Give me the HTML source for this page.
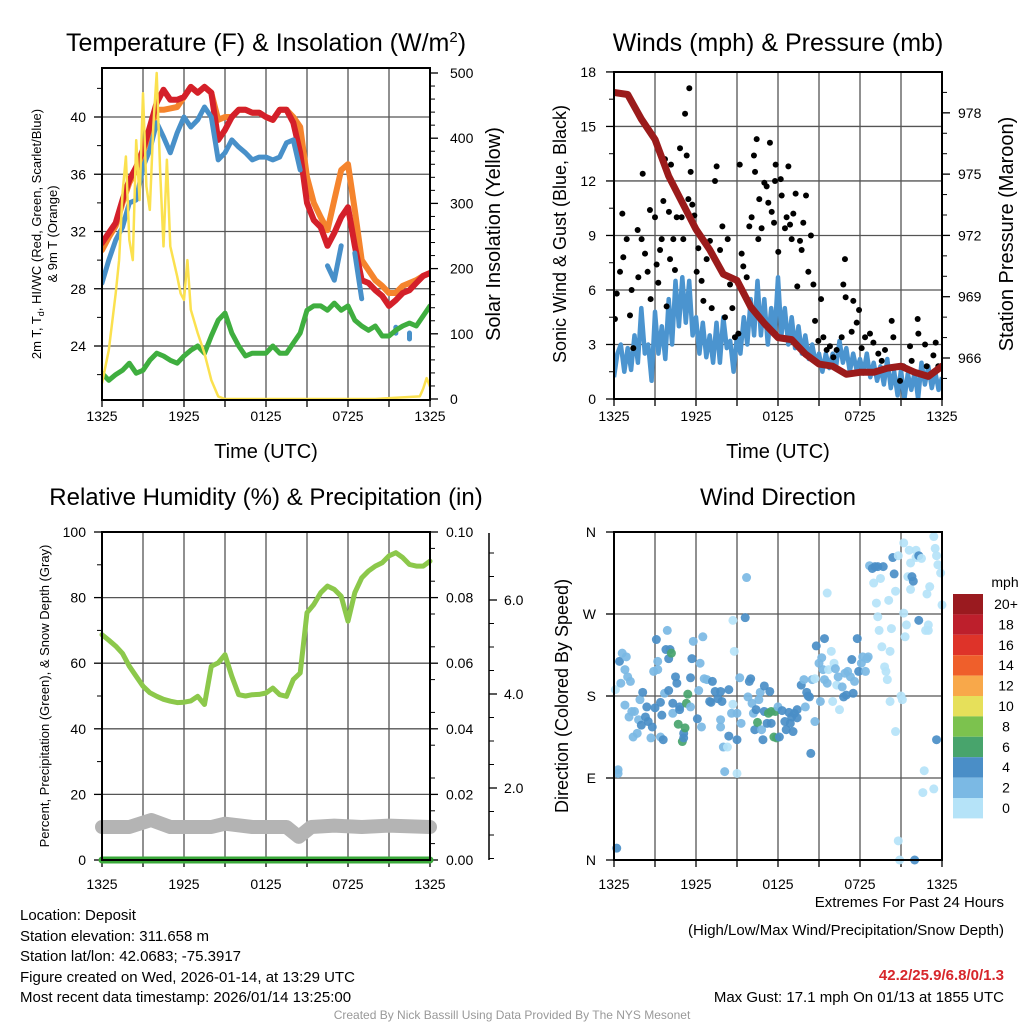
<!DOCTYPE html>
<html><head><meta charset="utf-8"><title>Mesonet Station Chart</title>
<style>
html,body{margin:0;padding:0;background:#fff;}
svg{display:block;font-family:"Liberation Sans",Arial,sans-serif;}
</style></head>
<body>
<svg id="chart" width="1024" height="1024" viewBox="0 0 1024 1024" xmlns="http://www.w3.org/2000/svg">
<rect x="0" y="0" width="1024" height="1024" fill="#fff"/>
<text x="266" y="51" font-size="25" text-anchor="middle">Temperature (F) &amp; Insolation (W/m<tspan dy="-9" font-size="15">2</tspan><tspan dy="9">)</tspan></text>
<text x="778" y="51" font-size="25" text-anchor="middle">Winds (mph) &amp; Pressure (mb)</text>
<text x="266" y="505" font-size="24" text-anchor="middle">Relative Humidity (%) &amp; Precipitation (in)</text>
<text x="778" y="505" font-size="24" text-anchor="middle">Wind Direction</text>

<text transform="translate(41,234) rotate(-90)" font-size="13" text-anchor="middle">2m T, T<tspan font-size="9" dy="3">d</tspan><tspan dy="-3">, HI/WC (Red, Green, Scarlet/Blue)</tspan></text>
<text transform="translate(57,234) rotate(-90)" font-size="13" text-anchor="middle">&amp; 9m T (Orange)</text>
<text transform="translate(500,234) rotate(-90)" font-size="20" text-anchor="middle">Solar Insolation (Yellow)</text>
<text x="266" y="458" font-size="20" text-anchor="middle">Time (UTC)</text>
<text transform="translate(566,234) rotate(-90)" font-size="18" text-anchor="middle">Sonic Wind &amp; Gust (Blue, Black)</text>
<text transform="translate(1013,234) rotate(-90)" font-size="20" text-anchor="middle">Station Pressure (Maroon)</text>
<text x="778" y="458" font-size="20" text-anchor="middle">Time (UTC)</text>
<text transform="translate(49,696) rotate(-90)" font-size="13" text-anchor="middle">Percent, Precipitation (Green), &amp; Snow Depth (Gray)</text>
<text transform="translate(568,696) rotate(-90)" font-size="18" text-anchor="middle">Direction (Colored By Speed)</text>

<g font-size="15">
<text x="20" y="920">Location: Deposit</text>
<text x="20" y="941">Station elevation: 311.658 m</text>
<text x="20" y="961">Station lat/lon: 42.0683; -75.3917</text>
<text x="20" y="982">Figure created on Wed, 2026-01-14, at 13:29 UTC</text>
<text x="20" y="1002">Most recent data timestamp: 2026/01/14 13:25:00</text>
</g>
<g font-size="15" text-anchor="end">
<text x="1004" y="907">Extremes For Past 24 Hours</text>
<text x="1004" y="935">(High/Low/Max Wind/Precipitation/Snow Depth)</text>
<text x="1004" y="980" fill="#d7262b" font-weight="bold">42.2/25.9/6.8/0/1.3</text>
<text x="1004" y="1002">Max Gust: 17.1 mph On 01/13 at 1855 UTC</text>
</g>
<text x="512" y="1019" font-size="12" fill="#999" text-anchor="middle">Created By Nick Bassill Using Data Provided By The NYS Mesonet</text>
</svg>
<script>
// ---------- data ----------
const halfHours = [0,0.5,1,1.5,2,2.5,3,3.5,4,4.5,5,5.5,6,6.5,7,7.5,8,8.5,9,9.5,10,10.5,11,11.5,12,12.5,13,13.5,14,14.5,15,15.5,16,16.5,17,17.5,18,18.5,19,19.5,20,20.5,21,21.5,22,22.5,23,23.5,24];
const timeTickLabels = ["1325","1925","0125","0725","1325"];
const tempTicks = [24,28,32,36,40];
const solarTicks = [0,100,200,300,400,500];
const temp2m = [31.2,31.9,32.6,34.2,35.6,36.5,37.7,39.3,41.0,41.9,41.2,41.2,41.4,42.1,41.7,42.1,41.7,38.4,39.1,40.0,40.5,40.5,40.3,40.3,40.0,39.8,40.5,40.5,39.6,37.5,34.0,32.8,32.3,31.0,31.9,33.0,33.7,31.0,28.6,28.4,27.9,27.5,26.8,27.2,27.7,27.9,28.4,28.9,29.1];
const temp9m = [30.7,31.6,32.4,34.0,35.4,36.3,37.5,39.0,40.5,40.5,40.6,40.7,41.4,42.1,41.7,42.1,41.7,39.8,40.0,40.0,40.5,40.5,40.3,40.3,40.0,39.8,40.5,40.5,40.0,39.3,35.8,34.0,33.0,32.1,34.2,36.3,36.7,33.5,30.0,29.3,28.6,28.2,27.7,27.7,28.2,28.4,28.6,28.9,29.1];
const heatWindChill = [28.4,30.0,31.4,32.3,34.0,34.2,36.5,37.7,39.6,38.6,37.5,38.9,40.0,39.3,39.8,40.7,40.0,37.0,37.5,38.4,37.9,37.5,37.0,37.2,37.2,37.0,37.2,38.2,38.4,36.3,null,null,null,29.6,28.6,31.0,null,30.5,27.3,null,null,null,null,25.1,null,24.7,null,null,null];
const dewPoint = [22.1,21.6,22.0,22.3,22.8,22.1,22.3,23.0,23.5,23.3,23.0,22.8,23.3,23.7,24.0,23.5,24.7,25.8,26.3,24.9,24.0,23.3,23.5,23.5,23.5,24.0,23.5,23.5,24.2,24.9,26.5,26.8,26.8,26.5,27.0,26.5,26.8,25.8,25.4,25.1,25.4,24.7,24.7,25.1,25.4,25.6,25.4,26.1,26.8];
const solarHours = [0,0.5,1,1.25,1.5,1.75,2,2.25,2.5,2.75,3,3.25,3.5,3.75,4,4.25,4.5,4.75,5,5.5,5.75,6,6.25,6.5,7,7.5,8,8.5,9,12,16,20,23.25,23.5,23.75,24];
const solarValues = [24,75,162,213,315,372,244,213,397,305,469,326,290,418,500,351,234,367,234,188,162,152,213,137,101,70,29,4,0,0,0,0,4,16,32,19];

const windTicks = [0,3,6,9,12,15,18];
const pressureTicks = [966,969,972,975,978];
const windHours = [0,0.25,0.5,0.75,1,1.25,1.5,1.75,2,2.25,2.5,2.75,3,3.25,3.5,3.75,4,4.25,4.5,4.75,5,5.25,5.5,5.75,6,6.25,6.5,6.75,7,7.25,7.5,7.75,8,8.25,8.5,8.75,9,9.25,9.5,9.75,10,10.25,10.5,10.75,11,11.25,11.5,11.75,12,12.25,12.5,12.75,13,13.25,13.5,13.75,14,14.25,14.5,14.75,15,15.25,15.5,15.75,16,16.25,16.5,16.75,17,17.25,17.5,17.75,18,18.25,18.5,18.75,19,19.25,19.5,19.75,20,20.25,20.5,20.75,21,21.25,21.5,21.75,22,22.25,22.5,22.75,23,23.25,23.5,23.75,24];
const windSpeed = [1.2,2.5,3.0,1.5,2.8,1.6,3.5,2.0,5.0,2.5,3.0,1.0,4.8,2.5,4.0,2.2,5.5,3.0,6.5,4.0,6.7,4.2,6.5,3.5,4.5,2.5,4.2,2.3,3.5,2.0,4.2,2.0,4.5,2.8,3.2,1.5,3.5,2.5,4.5,3.0,5.5,3.5,6.5,3.5,5.5,3.0,5.0,3.5,6.7,3.5,5.0,3.0,4.5,2.8,4.0,2.5,3.5,2.2,3.0,2.0,2.5,1.5,2.5,1.7,2.5,1.8,3.2,2.0,2.8,1.5,2.5,1.6,2.2,1.4,2.5,1.2,2.0,1.0,1.8,0.8,2.2,0.6,1.5,0.2,1.6,0.0,1.4,0.5,1.5,0.0,2.0,0.8,1.8,0.6,1.5,0.5,1.2];
const gustHours = [0.07,0.2,0.44,0.61,0.68,0.93,1.17,1.29,1.41,1.73,1.78,2.02,2.1,2.27,2.46,2.63,2.68,3.0,3.12,3.24,3.37,3.49,3.61,3.73,3.85,4.02,4.1,4.17,4.34,4.46,4.59,4.83,4.95,5.07,5.2,5.32,5.44,5.51,5.61,5.73,5.88,6.05,6.17,6.41,6.54,6.78,7.02,7.15,7.39,7.51,7.76,7.93,8.12,8.32,8.49,8.66,8.85,9.1,9.2,9.34,9.46,9.71,9.9,10.07,10.24,10.32,10.44,10.56,10.63,10.8,11.0,11.17,11.29,11.41,11.54,11.71,11.78,11.83,12.02,12.2,12.27,12.51,12.63,12.76,12.88,13.0,13.12,13.29,13.41,13.61,13.73,13.85,14.05,14.22,14.41,14.59,14.71,14.95,15.15,15.32,15.56,15.8,16.05,16.29,16.66,16.78,16.9,16.95,17.39,17.51,17.76,17.93,18.12,18.37,18.73,18.98,19.34,19.59,19.83,20.32,20.44,20.93,21.17,21.66,21.78,22.22,22.27,22.76,22.88,23.37,23.54,23.73];
const gustSpeed = [4.4,5.8,7.0,10.2,7.8,8.8,4.6,6.0,2.8,9.3,6.7,8.8,12.4,8.0,7.0,10.4,5.5,10.0,7.4,6.4,8.2,8.8,10.9,13.2,5.1,10.3,7.7,12.9,8.8,7.1,10.0,13.8,10.0,8.8,15.7,13.4,11.0,17.1,12.5,10.7,10.1,7.0,8.3,6.5,5.4,7.7,8.7,5.0,12.0,12.8,8.2,9.5,4.5,8.8,6.3,5.0,3.4,3.6,12.9,8.0,7.3,6.7,9.5,10.0,13.4,12.5,14.3,8.8,11.0,9.4,11.9,11.7,10.8,14.1,10.3,9.7,12.0,12.9,8.1,12.1,11.2,9.4,10.0,12.8,9.6,8.8,10.2,11.3,6.2,8.7,8.2,9.7,11.2,7.0,9.0,6.3,4.3,3.2,5.5,3.4,2.7,2.9,2.3,2.7,3.4,6.3,7.7,5.6,3.7,5.4,4.2,4.9,2.8,3.4,3.6,3.1,2.5,2.1,2.7,4.3,3.4,1.0,1.8,2.9,2.1,4.4,3.6,3.0,1.8,2.4,3.1,1.8];
const pressureHours = [0,1,2,3,4,5,6,7,8,9,10,11,12,13,14,15,16,17,18,19,20,21,22,23,24];
const pressureValues = [979.0,978.9,977.7,976.7,974.9,973.6,972.3,971.3,970.1,969.8,968.5,967.7,967.0,966.9,966.2,965.7,965.6,965.2,965.3,965.3,965.5,965.6,965.3,965.1,965.6];

const percentTicks = [0,20,40,60,80,100];
const precipTicks = ["0.00","0.02","0.04","0.06","0.08","0.10"];
const snowTicks = [2,4,6];
const relHumidity = [68.7,67,65.2,63,59.1,56,53,51,49.9,49,48.4,48,48.1,48.5,49.9,47.4,59.1,60.1,62.6,56,50.4,50,50.4,50.5,50.9,52.4,50.4,49.9,55,57,75.4,77.9,81.5,83.5,82.5,80.4,72.8,81.5,86,88.1,89.6,90.6,92.7,93.7,92.2,90.1,89.6,89.6,91.1];
const snowHours = [0,2,3.6,5,8,9,11,12.5,13.5,14.4,15.3,17,19,21,24];
const snowDepth = [1.17,1.17,1.32,1.17,1.17,1.24,1.17,1.17,1.17,0.96,1.17,1.2,1.17,1.2,1.17];
const precipHours = [0,24];
const precipValues = [0,0];

const dirTickLabels = ["N","E","S","W","N"];
const dirHours = [0.2,0.3,0.3,0.1,0.4,0.6,0.9,0.5,0.8,1.0,1.2,0.8,1.1,1.3,1.5,1.8,2.0,1.4,1.7,1.9,2.1,2.4,2.3,2.5,2.8,2.7,3.0,3.1,3.2,3.2,2.9,3.4,3.5,3.4,3.6,3.7,3.9,3.8,4.0,4.1,4.2,4.0,4.3,4.5,4.6,4.3,4.7,4.8,4.8,5.0,5.1,5.2,5.1,5.3,5.4,5.6,5.7,5.8,5.6,6.1,6.3,6.2,6.5,6.4,6.6,6.8,7.0,7.1,7.2,7.4,7.6,7.8,7.9,7.8,7.8,8.0,8.1,8.3,8.4,8.4,8.7,8.7,8.8,8.6,9.0,9.0,9.0,9.2,9.3,9.6,9.7,9.8,10.0,9.9,10.1,10.2,10.3,10.4,10.5,10.6,10.7,10.8,10.9,11.0,11.0,11.2,11.3,11.4,11.5,11.5,11.7,11.8,11.9,12.0,12.1,12.3,12.5,12.6,12.8,12.9,13.0,13.1,13.2,13.4,13.4,13.7,13.9,14.0,14.1,14.2,14.3,14.4,14.5,14.7,14.7,14.8,15.0,15.1,15.2,15.3,15.4,15.4,15.6,15.6,15.7,15.9,16.0,16.1,16.2,16.3,16.4,16.5,16.7,16.8,16.9,17.0,17.1,17.3,17.4,17.5,17.6,17.8,17.9,18.1,18.2,18.4,18.5,18.6,18.7,18.9,19.0,19.1,19.3,19.2,19.3,19.4,19.5,19.6,19.7,19.8,19.9,20.0,20.1,20.2,20.2,20.3,20.4,20.5,20.6,20.6,20.8,20.8,20.9,21.0,21.1,21.2,21.2,21.3,21.4,21.5,21.6,21.7,21.7,21.8,21.9,22.0,22.1,22.1,22.3,22.3,22.5,22.6,22.7,22.8,22.9,23.0,23.0,23.1,23.4,23.4,23.5,23.6,23.6,23.7,23.9,24.0];
const dirDegrees = [13,95,99,187,218,227,223,194,209,201,196,170,157,163,163,154,148,135,139,176,184,168,157,152,146,134,167,242,218,209,207,173,159,135,132,183,252,231,221,231,227,186,172,201,194,161,149,168,165,130,139,145,134,172,182,200,221,240,168,155,216,186,245,146,199,198,174,173,196,185,177,185,174,154,146,124,97,124,136,187,171,263,229,161,161,132,95,200,150,266,310,179,199,196,172,161,143,165,151,176,184,143,132,191,163,150,161,185,163,150,135,163,134,168,135,164,152,143,162,150,157,141,161,165,156,192,198,168,184,180,179,117,198,152,199,235,216,174,222,209,198,243,293,194,209,229,174,216,210,192,201,165,190,179,205,181,207,201,220,183,196,243,207,216,223,207,221,223,323,320,304,322,322,282,267,252,309,234,322,212,207,198,285,229,174,254,332,314,295,141,334,21,0,180,176,348,271,245,258,311,340,326,297,311,306,0,340,332,334,263,331,74,98,252,292,252,258,300,78,355,342,334,132,324,315,280];
const dirSpeed = [5,3,3,1,5,3,3,3,3,3,3,3,3,3,3,3,5,3,3,3,5,5,5,5,5,3,5,5,3,3,3,5,5,3,5,3,3,5,5,5,7,5,5,5,5,3,7,5,5,7,5,7,5,7,7,5,5,3,3,5,3,3,3,3,3,3,5,5,5,5,5,5,5,3,3,3,3,1,5,5,1,1,1,3,3,5,1,3,3,5,3,3,5,5,3,3,5,5,7,3,3,3,5,5,5,5,7,5,7,5,7,7,7,3,5,5,5,5,5,5,5,5,5,5,5,5,3,3,5,5,5,5,3,3,1,5,3,3,3,3,3,5,1,3,1,1,1,1,3,1,3,1,3,5,3,5,3,3,5,5,3,5,5,3,3,3,3,3,3,5,1,5,5,1,1,1,1,1,5,1,1,1,1,1,1,1,5,5,1,1,1,1,1,1,1,1,1,1,1,1,1,1,1,5,5,5,1,1,5,5,1,1,1,1,1,1,1,1,1,1,1,1,5,1,1,1,1,1,1];
const colorbarLabels = ["20+","18","16","14","12","10","8","6","4","2","0"];
const colorbarColors = ["#9a1a1f","#bd1f2c","#de3329","#ef5f2b","#f8a84a","#e6e05a","#7cc24e","#48a46c","#4a8ec7","#7bb9e4","#b5e3f8"];

// ---------- helpers ----------
const NS = "http://www.w3.org/2000/svg";
const svg = document.getElementById("chart");
function mk(tag, attrs, name, parent) {
  const el = document.createElementNS(NS, tag);
  for (const k in attrs) el.setAttribute(k, attrs[k]);
  
  
  (parent || svg).appendChild(el);
  return el;
}
function txt(x, y, s, size, anchor, name, parent) {
  const el = mk("text", {x: x, y: y, "font-size": size, "text-anchor": anchor}, name, parent);
  el.textContent = s;
  return el;
}
function pathOf(xs, ys, fx, fy) {
  const segs = []; let cur = [];
  for (let i = 0; i < xs.length; i++) {
    if (ys[i] === null || ys[i] === undefined) { if (cur.length) segs.push(cur); cur = []; continue; }
    cur.push([fx(xs[i]), fy(ys[i])]);
  }
  if (cur.length) segs.push(cur);
  return segs.map(s => s.length === 1 ? "M" + s[0][0] + "," + (s[0][1] - 3) + "L" + s[0][0] + "," + (s[0][1] + 3)
    : "M" + s.map(p => p[0].toFixed(1) + "," + p[1].toFixed(1)).join("L")).join("");
}
function panelFrame(x0, y0, w, h, name, hGrid, g) {
  const fg = mk("g", {}, name + "-grid", g);
  for (let i = 0; i <= 8; i++) {
    const x = x0 + i * w / 8;
    mk("line", {x1: x, y1: y0, x2: x, y2: y0 + h, stroke: "#555", "stroke-width": 1.3}, name + "-vgrid", fg);
    mk("line", {x1: x, y1: y0 + h, x2: x, y2: y0 + h + 7, stroke: "#000", "stroke-width": 1.3}, name + "-x-tick", fg);
  }
  hGrid.forEach(y => {
    mk("line", {x1: x0, y1: y, x2: x0 + w, y2: y, stroke: "#555", "stroke-width": 1.3}, name + "-hgrid", fg);
  });
}
function border(x0, y0, w, h, name, g) {
  mk("rect", {x: x0, y: y0, width: w, height: h, fill: "none", stroke: "#000", "stroke-width": 2}, name + "-border", g);
}
function timeLabels(x0, w, y, name, g) {
  timeTickLabels.forEach((s, i) => txt(x0 + i * w / 4, y, s, 14, "middle", name + "-x-tick-label", g));
}

// ---------- panel 1: temperature ----------
{
  const g = mk("g", {}, "temperature-panel");
  const X0 = 102, W = 328, Y0 = 68, H = 332;
  const x = h => X0 + h * W / 24;
  const yT = t => 117 - (t - 40) * 57.25 / 4;
  const yS = v => 399 - v * 0.652;
  panelFrame(X0, Y0, W, H, "temperature", tempTicks.map(yT), g);
  tempTicks.forEach(t => {
    mk("line", {x1: X0 - 8, y1: yT(t), x2: X0, y2: yT(t), stroke: "#000", "stroke-width": 1.3}, "temperature-y-tick", g);
    txt(X0 - 16, yT(t) + 5, String(t), 14, "end", "temperature-y-tick-label", g);
  });
  for (let t = 22; t <= 42; t += 2) if (tempTicks.indexOf(t) < 0)
    mk("line", {x1: X0 - 5, y1: yT(t), x2: X0, y2: yT(t), stroke: "#000", "stroke-width": 1}, "temperature-minor-tick", g);
  solarTicks.forEach(v => {
    mk("line", {x1: X0 + W, y1: yS(v), x2: X0 + W + 8, y2: yS(v), stroke: "#000", "stroke-width": 1.3}, "solar-y-tick", g);
    txt(X0 + W + 20, yS(v) + 5, String(v), 14, "start", "solar-y-tick-label", g);
  });
  for (let v = 20; v < 510; v += 20) if (v % 100)
    mk("line", {x1: X0 + W, y1: yS(v), x2: X0 + W + 5, y2: yS(v), stroke: "#000", "stroke-width": 1}, "solar-minor-tick", g);
  timeLabels(X0, W, 421, "temperature", g);
  const clip = mk("clipPath", {id: "clip1"}, "temperature-clip", g);
  mk("rect", {x: X0, y: Y0, width: W, height: H}, "temperature-clip-rect", clip);
  const lg = mk("g", {"clip-path": "url(#clip1)"}, "temperature-series", g);
  mk("path", {d: pathOf(halfHours, temp9m, x, yT), fill: "none", stroke: "#f5842d", "stroke-width": 6, "stroke-linejoin": "round", "stroke-linecap": "round"}, "temp-9m-line", lg);
  mk("path", {d: pathOf(halfHours, temp2m, x, yT), fill: "none", stroke: "#d4202a", "stroke-width": 6, "stroke-linejoin": "round", "stroke-linecap": "round"}, "temp-2m-line", lg);
  mk("path", {d: pathOf(halfHours, heatWindChill, x, yT), fill: "none", stroke: "#4890c9", "stroke-width": 5, "stroke-linejoin": "round", "stroke-linecap": "round"}, "heat-index-wind-chill-line", lg);
  mk("path", {d: pathOf(halfHours, dewPoint, x, yT), fill: "none", stroke: "#3fae3f", "stroke-width": 5, "stroke-linejoin": "round", "stroke-linecap": "round"}, "dew-point-line", lg);
  mk("path", {d: pathOf(solarHours, solarValues, x, yS), fill: "none", stroke: "#fbe14f", "stroke-width": 2.5, "stroke-linejoin": "round"}, "solar-insolation-line", lg);
  border(X0, Y0, W, H, "temperature", g);
}

// ---------- panel 2: winds ----------
{
  const g = mk("g", {}, "winds-panel");
  const X0 = 614, W = 328, Y0 = 72, H = 327;
  const x = h => X0 + h * W / 24;
  const yW = v => 399 - v * 18.17;
  const yP = p => 358 - (p - 966) * 20.43;
  panelFrame(X0, Y0, W, H, "winds", windTicks.map(yW), g);
  windTicks.forEach(v => {
    mk("line", {x1: X0 - 8, y1: yW(v), x2: X0, y2: yW(v), stroke: "#000", "stroke-width": 1.3}, "wind-y-tick", g);
    txt(X0 - 18, yW(v) + 5, String(v), 14, "end", "wind-y-tick-label", g);
  });
  for (let v = 1.5; v < 18; v += 3)
    mk("line", {x1: X0 - 5, y1: yW(v), x2: X0, y2: yW(v), stroke: "#000", "stroke-width": 1}, "wind-minor-tick", g);
  pressureTicks.forEach(p => {
    mk("line", {x1: X0 + W, y1: yP(p), x2: X0 + W + 8, y2: yP(p), stroke: "#000", "stroke-width": 1.3}, "pressure-y-tick", g);
    txt(X0 + W + 16, yP(p) + 5, String(p), 14, "start", "pressure-y-tick-label", g);
  });
  for (let p = 965; p <= 979; p++) if (pressureTicks.indexOf(p) < 0)
    mk("line", {x1: X0 + W, y1: yP(p), x2: X0 + W + 5, y2: yP(p), stroke: "#000", "stroke-width": 1}, "pressure-minor-tick", g);
  timeLabels(X0, W, 421, "winds", g);
  const clip = mk("clipPath", {id: "clip2"}, "winds-clip", g);
  mk("rect", {x: X0, y: Y0, width: W, height: H}, "winds-clip-rect", clip);
  const lg = mk("g", {"clip-path": "url(#clip2)"}, "winds-series", g);
  mk("path", {d: pathOf(windHours, windSpeed, x, yW), fill: "none", stroke: "#4b94cf", "stroke-width": 4.5, "stroke-linejoin": "round"}, "sonic-wind-line", lg);
  gustHours.forEach((h, i) => {
    const c = mk("circle", {cx: x(h), cy: yW(gustSpeed[i]), r: 3, fill: "#000"}, "gust-point", lg);
  });
  mk("path", {d: pathOf(pressureHours, pressureValues, x, yP), fill: "none", stroke: "#9b1b1b", "stroke-width": 7, "stroke-linejoin": "round", "stroke-linecap": "round"}, "pressure-line", lg);
  border(X0, Y0, W, H, "winds", g);
}

// ---------- panel 3: humidity ----------
{
  const g = mk("g", {}, "humidity-panel");
  const X0 = 102, W = 328, Y0 = 532, H = 328;
  const x = h => X0 + h * W / 24;
  const yR = p => 860 - p * 3.28;
  const yPr = v => 860 - v * 3280;
  const ySn = s => 882 - s * 47;
  panelFrame(X0, Y0, W, H, "humidity", percentTicks.map(yR), g);
  percentTicks.forEach(p => {
    mk("line", {x1: X0 - 8, y1: yR(p), x2: X0, y2: yR(p), stroke: "#000", "stroke-width": 1.3}, "humidity-y-tick", g);
    txt(X0 - 16, yR(p) + 5, String(p), 14, "end", "humidity-y-tick-label", g);
  });
  for (let p = 10; p < 100; p += 20)
    mk("line", {x1: X0 - 5, y1: yR(p), x2: X0, y2: yR(p), stroke: "#000", "stroke-width": 1}, "humidity-minor-tick", g);
  precipTicks.forEach(s => {
    const v = parseFloat(s);
    mk("line", {x1: X0 + W, y1: yPr(v), x2: X0 + W + 8, y2: yPr(v), stroke: "#000", "stroke-width": 1.3}, "precip-y-tick", g);
    txt(X0 + W + 16, yPr(v) + 5, s, 14, "start", "precip-y-tick-label", g);
  });
  for (let v = 0.005; v < 0.1; v += 0.01)
    mk("line", {x1: X0 + W, y1: yPr(v), x2: X0 + W + 5, y2: yPr(v), stroke: "#000", "stroke-width": 1}, "precip-minor-tick", g);
  mk("line", {x1: 489, y1: 533, x2: 489, y2: 860, stroke: "#000", "stroke-width": 1.5}, "snow-axis-line", g);
  snowTicks.forEach(s => {
    mk("line", {x1: 489, y1: ySn(s), x2: 497, y2: ySn(s), stroke: "#000", "stroke-width": 1.3}, "snow-y-tick", g);
    txt(504, ySn(s) + 5, s.toFixed(1), 14, "start", "snow-y-tick-label", g);
  });
  for (let s = 0.5; s < 7.5; s += 0.5) if (s % 2 && ySn(s) > 533)
    mk("line", {x1: 489, y1: ySn(s), x2: 494, y2: ySn(s), stroke: "#000", "stroke-width": 1}, "snow-minor-tick", g);
  timeLabels(X0, W, 889, "humidity", g);
  mk("path", {d: pathOf(snowHours, snowDepth, x, ySn), fill: "none", stroke: "#b4b4b4", "stroke-width": 14, "stroke-linejoin": "round", "stroke-linecap": "round"}, "snow-depth-line", g);
  mk("path", {d: pathOf(precipHours, precipValues, x, yPr), fill: "none", stroke: "#3aa83a", "stroke-width": 7, "stroke-linecap": "round"}, "precipitation-line", g);
  mk("path", {d: pathOf(halfHours, relHumidity, x, yR), fill: "none", stroke: "#8cc84b", "stroke-width": 5, "stroke-linejoin": "round", "stroke-linecap": "round"}, "relative-humidity-line", g);
  border(X0, Y0, W, H, "humidity", g);
}

// ---------- panel 4: wind direction ----------
{
  const g = mk("g", {}, "wind-direction-panel");
  const X0 = 614, W = 328, Y0 = 532, H = 328;
  const x = h => X0 + h * W / 24;
  const yD = d => 860 - d * 328 / 360;
  const dirVals = [0, 90, 180, 270, 360];
  panelFrame(X0, Y0, W, H, "direction", dirVals.map(yD), g);
  dirVals.forEach((d, i) => {
    mk("line", {x1: X0 - 8, y1: yD(d), x2: X0, y2: yD(d), stroke: "#000", "stroke-width": 1.3}, "direction-y-tick", g);
    txt(X0 - 18, yD(d) + 5, dirTickLabels[i], 14, "end", "direction-y-tick-label", g);
  });
  timeLabels(X0, W, 889, "direction", g);
  const clip = mk("clipPath", {id: "clip4"}, "direction-clip", g);
  mk("rect", {x: X0 - 5, y: Y0 - 5, width: W + 10, height: H + 10}, "direction-clip-rect", clip);
  const pg = mk("g", {"clip-path": "url(#clip4)"}, "direction-points", g);
  dirHours.forEach((h, i) => {
    const idx = Math.min(10, Math.floor(dirSpeed[i] / 2));
    mk("circle", {cx: x(h), cy: yD(dirDegrees[i]), r: 4.5, fill: colorbarColors[10 - idx], "fill-opacity": 0.92}, "direction-point", pg);
  });
  border(X0, Y0, W, H, "direction", g);
  const cb = mk("g", {}, "speed-colorbar", g);
  txt(1005, 587, "mph", 14, "middle", "colorbar-title", cb);
  colorbarColors.forEach((c, i) => {
    const y = 594 + i * 20.4;
    mk("rect", {x: 953, y: y, width: 30, height: 20.4, fill: c}, "colorbar-swatch", cb);
    txt(1006, y + 15, colorbarLabels[i], 14, "middle", "colorbar-label", cb);
  });
}
</script>
</body></html>
